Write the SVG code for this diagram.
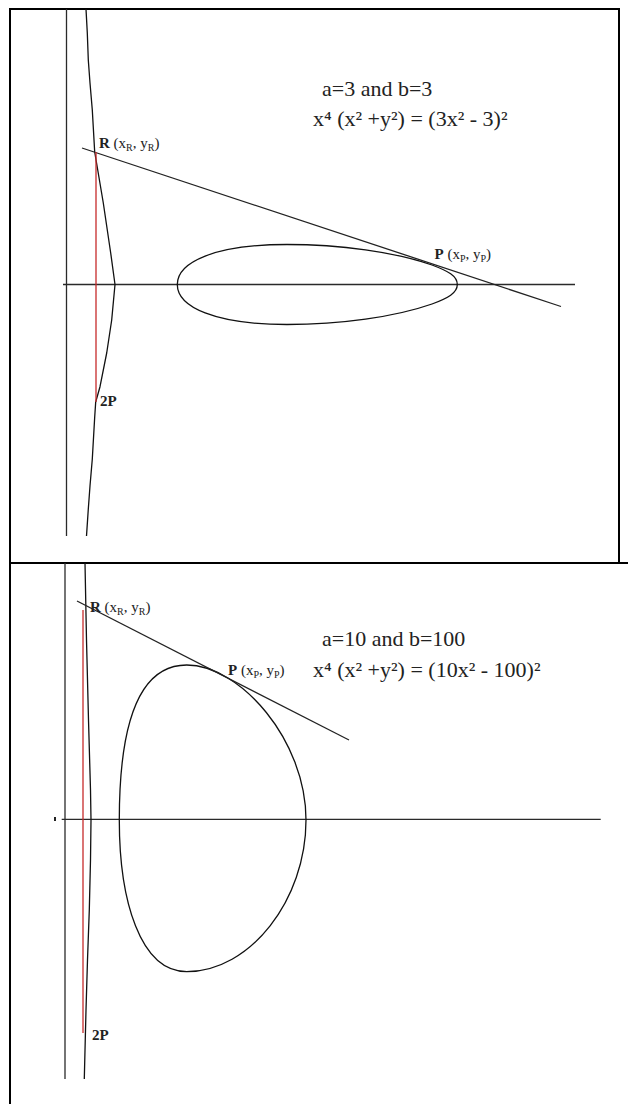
<svg xmlns="http://www.w3.org/2000/svg" width="628" height="1104" viewBox="0 0 628 1104">
<style>
.frame{fill:none;stroke:#000;stroke-width:2}
.axis{fill:none;stroke:#2a2a2a;stroke-width:1.3}
.curve{fill:none;stroke:#111;stroke-width:1.3;stroke-linejoin:round}
.tan{fill:none;stroke:#222;stroke-width:1.3}
.red{fill:none;stroke:#c62a2a;stroke-width:1.3}
.big{font-family:"Liberation Serif","Times New Roman",serif;font-size:22px;fill:#222}
.lbl{font-family:"Liberation Serif","Times New Roman",serif;font-size:15px;fill:#222}
.b{font-weight:bold}
.sub{font-size:10px}
</style>
<rect x="0" y="0" width="628" height="1104" fill="#fff"/>
<g id="frame">
<line class="frame" x1="10" y1="9" x2="619" y2="9"/>
<line class="frame" x1="10" y1="8" x2="10" y2="1104"/>
<line class="frame" x1="619" y1="8" x2="619" y2="563"/>
<line class="frame" x1="10" y1="563" x2="628" y2="563"/>
</g>
<g id="panel1">
<g id="axes1">
<line class="axis" x1="66.5" y1="9" x2="66.5" y2="536"/>
<line class="axis" x1="63" y1="284.5" x2="575" y2="284.5"/>
</g>
<g id="branch1">
<path class="curve" d="M86,9 L87.3,33 L88.3,60 L90,83 L92.3,110 L94.7,152 L103.3,203 L110.7,253 L115,284.5 L111.7,320 L106.7,353 L100,386.7 L95.7,402 L94.7,417 L92.3,459 L90,486 L88.3,509 L86.5,536"/>
</g>
<g id="loop1">
<path class="curve" d="M177.3,284.5 C177.3,262 215,244.5 287,244.5 C340,244.5 395,252 432,265 C448,271 457.3,276 457.3,284.5 C457.3,293 448,298 432,304 C395,317 340,324.5 287,324.5 C215,324.5 177.3,307 177.3,284.5 Z"/>
</g>
<g id="connectors1">
<line class="tan" x1="82" y1="148" x2="561" y2="306.5"/>
<line class="red" x1="96" y1="152" x2="96" y2="402"/>
</g>
<g id="R1"><text class="lbl" x="99" y="148"><tspan class="b">R</tspan> (x<tspan class="sub" dy="3">R</tspan><tspan dy="-3">, y</tspan><tspan class="sub" dy="3">R</tspan><tspan dy="-3">)</tspan></text></g>
<g id="P1"><text class="lbl" x="434.5" y="258.6"><tspan class="b">P</tspan> (x<tspan class="sub" dy="3">P</tspan><tspan dy="-3">, y</tspan><tspan class="sub" dy="3">P</tspan><tspan dy="-3">)</tspan></text></g>
<g id="twoP1"><text class="lbl b" x="100" y="406">2P</text></g>
<g id="title1">
<text class="big" x="322" y="95.8">a=3 and b=3</text>
<text class="big" x="313" y="126.4">x⁴ (x² +y²) = (3x² - 3)²</text>
</g>
</g>
<g id="panel2">
<g id="axes2">
<line class="axis" x1="65" y1="563" x2="65" y2="1079"/>
<line class="axis" x1="61.7" y1="819.3" x2="600.7" y2="819.3"/>
<rect x="54" y="817" width="2" height="4" fill="#222"/>
</g>
<g id="branch2">
<path class="curve" d="M85,563 L86.5,640 L88.5,720 L90.5,790 L91,820 L90.5,860 L89.3,910 L87.5,960 L86,1010 L84.3,1079"/>
</g>
<g id="loop2">
<path class="curve" d="M119.3,820 C119.3,735 135,665 186.7,665 C240,665 306,740 306,820 C306,900 250,971.7 186.7,971.7 C140,971.7 119.3,900 119.3,820 Z"/>
</g>
<g id="connectors2">
<line class="tan" x1="77" y1="601" x2="349" y2="740"/>
<line class="red" x1="83" y1="610" x2="83" y2="1033"/>
</g>
<g id="R2"><text class="lbl" x="90" y="612"><tspan class="b">R</tspan> (x<tspan class="sub" dy="3">R</tspan><tspan dy="-3">, y</tspan><tspan class="sub" dy="3">R</tspan><tspan dy="-3">)</tspan></text></g>
<g id="P2"><text class="lbl" x="228" y="675"><tspan class="b">P</tspan> (x<tspan class="sub" dy="3">P</tspan><tspan dy="-3">, y</tspan><tspan class="sub" dy="3">P</tspan><tspan dy="-3">)</tspan></text></g>
<g id="twoP2"><text class="lbl b" x="92" y="1040">2P</text></g>
<g id="title2">
<text class="big" x="322" y="646">a=10 and b=100</text>
<text class="big" x="313" y="677">x⁴ (x² +y²) = (10x² - 100)²</text>
</g>
</g>
</svg>
